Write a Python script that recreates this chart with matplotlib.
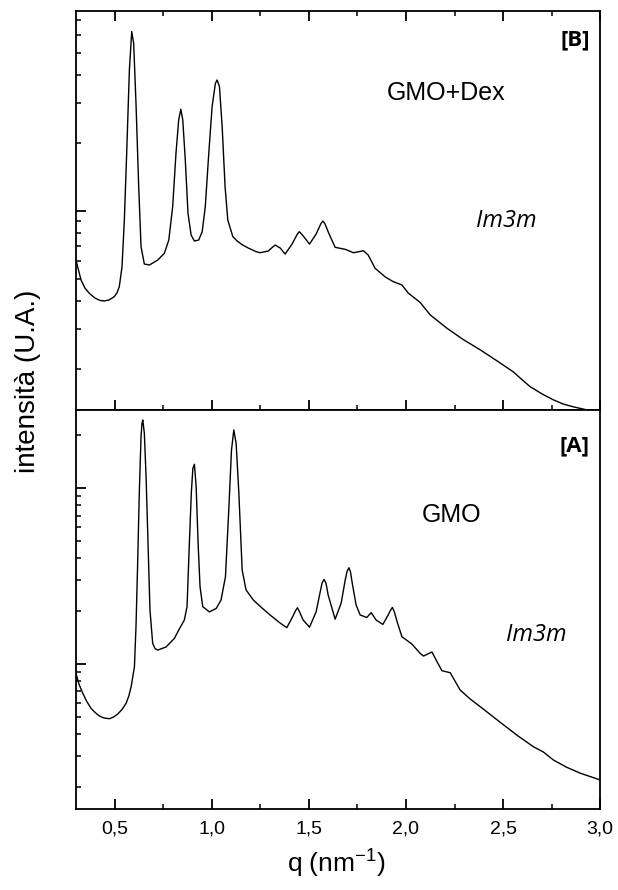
import matplotlib

matplotlib.use("Agg")
import matplotlib.pyplot as plt
from matplotlib.ticker import FixedLocator, FuncFormatter, LogLocator, MultipleLocator, NullFormatter

# GMO + dextran sample, panel [B]
q_dex = [0.300, 0.310, 0.326, 0.346, 0.369, 0.398, 0.424, 0.446, 0.470, 0.497,
         0.511, 0.523, 0.537, 0.549, 0.561, 0.575, 0.587, 0.597, 0.609, 0.623,
         0.635, 0.652, 0.678, 0.721, 0.755, 0.778, 0.798, 0.815, 0.829, 0.840,
         0.850, 0.863, 0.877, 0.893, 0.910, 0.932, 0.950, 0.966, 0.984, 1.001,
         1.018, 1.027, 1.039, 1.053, 1.068, 1.082, 1.108, 1.130, 1.159, 1.192,
         1.228, 1.248, 1.290, 1.305, 1.326, 1.352, 1.377, 1.413, 1.440, 1.450,
         1.460, 1.475, 1.503, 1.537, 1.562, 1.572, 1.582, 1.604, 1.635, 1.687,
         1.729, 1.781, 1.805, 1.841, 1.893, 1.934, 1.979, 2.011, 2.073, 2.125,
         2.211, 2.295, 2.383, 2.470, 2.554, 2.599, 2.640, 2.702, 2.760, 2.810,
         2.863, 2.913, 3.000]
i_dex = [0.607, 0.560, 0.495, 0.456, 0.432, 0.412, 0.402, 0.400, 0.404, 0.418,
         0.434, 0.463, 0.567, 0.912, 1.80, 4.21, 6.22, 5.52, 3.00, 1.28,
         0.695, 0.583, 0.577, 0.607, 0.650, 0.744, 1.045, 1.80, 2.53, 2.82,
         2.53, 1.68, 0.977, 0.783, 0.737, 0.744, 0.810, 1.045, 1.80, 2.89,
         3.67, 3.80, 3.55, 2.36, 1.28, 0.912, 0.770, 0.737, 0.707, 0.683,
         0.661, 0.654, 0.665, 0.683, 0.707, 0.686, 0.645, 0.714, 0.790, 0.810,
         0.795, 0.767, 0.714, 0.791, 0.880, 0.903, 0.880, 0.791, 0.691, 0.677,
         0.654, 0.667, 0.639, 0.558, 0.511, 0.487, 0.471, 0.434, 0.394, 0.347,
         0.303, 0.270, 0.243, 0.217, 0.194, 0.179, 0.167, 0.155, 0.146, 0.140,
         0.136, 0.133, 0.128]

# pure GMO sample, panel [A]
q_gmo = [0.300, 0.315, 0.335, 0.354, 0.377, 0.398, 0.420, 0.444, 0.472, 0.493,
         0.515, 0.537, 0.558, 0.572, 0.584, 0.601, 0.609, 0.618, 0.626, 0.635,
         0.640, 0.644, 0.652, 0.661, 0.670, 0.681, 0.695, 0.707, 0.721, 0.764,
         0.807, 0.832, 0.858, 0.872, 0.884, 0.894, 0.902, 0.910, 0.919, 0.929,
         0.939, 0.953, 0.987, 1.022, 1.047, 1.070, 1.087, 1.101, 1.113, 1.125,
         1.139, 1.156, 1.176, 1.214, 1.259, 1.300, 1.352, 1.386, 1.413, 1.432,
         1.441, 1.450, 1.470, 1.503, 1.537, 1.558, 1.568, 1.578, 1.588, 1.599,
         1.635, 1.666, 1.687, 1.697, 1.706, 1.714, 1.723, 1.743, 1.764, 1.798,
         1.821, 1.846, 1.881, 1.908, 1.920, 1.930, 1.940, 1.955, 1.979, 2.030,
         2.073, 2.090, 2.134, 2.156, 2.185, 2.228, 2.279, 2.331, 2.383, 2.444,
         2.503, 2.578, 2.657, 2.707, 2.760, 2.826, 2.898, 3.000]
i_gmo = [0.885, 0.769, 0.681, 0.616, 0.560, 0.530, 0.506, 0.493, 0.488, 0.499,
         0.519, 0.551, 0.597, 0.657, 0.743, 0.965, 1.63, 3.91, 9.37, 19.7,
         23.5, 24.5, 20.6, 11.6, 5.30, 2.03, 1.31, 1.225, 1.20, 1.25,
         1.40, 1.58, 1.78, 2.12, 4.86, 9.37, 13.0, 13.7, 10.2, 4.86,
         2.75, 2.12, 1.98, 2.07, 2.31, 3.14, 7.52, 16.5, 21.5, 18.0,
         9.37, 3.43, 2.64, 2.31, 2.08, 1.90, 1.71, 1.61, 1.83, 2.02,
         2.09, 2.00, 1.78, 1.62, 1.98, 2.57, 2.90, 3.03, 2.88, 2.47,
         1.80, 2.22, 3.01, 3.38, 3.53, 3.35, 2.89, 2.17, 1.90, 1.84,
         1.96, 1.78, 1.68, 1.90, 2.02, 2.10, 1.98, 1.73, 1.43, 1.30,
         1.15, 1.11, 1.17, 1.05, 0.916, 0.892, 0.711, 0.632, 0.571, 0.506,
         0.450, 0.389, 0.338, 0.316, 0.284, 0.259, 0.239, 0.219]

x_ticks = [0.5, 1.0, 1.5, 2.0, 2.5, 3.0]

plt.rcParams["font.family"] = ["Liberation Sans", "DejaVu Sans"]

fig = plt.figure(figsize=(6.18, 8.90), dpi=100)
left, width = 0.123, 0.848
ax_b = fig.add_axes([left, 0.5393, width, 0.4483])
ax_a = fig.add_axes([left, 0.0910, width, 0.4483], sharex=ax_b)


def style_axis(ax, ylim):
    ax.set_yscale("log")
    ax.set_ylim(*ylim)
    ax.set_xlim(0.3, 3.0)
    for sp in ax.spines.values():
        sp.set_linewidth(1.3)
    ax.yaxis.set_major_locator(LogLocator(base=10, numticks=10))
    ax.yaxis.set_minor_locator(LogLocator(base=10, subs=range(2, 10), numticks=20))
    ax.yaxis.set_major_formatter(NullFormatter())
    ax.yaxis.set_minor_formatter(NullFormatter())
    ax.xaxis.set_major_locator(FixedLocator(x_ticks))
    ax.xaxis.set_minor_locator(MultipleLocator(0.25))
    ax.tick_params(axis="y", which="major", direction="in", length=7.5, width=1.3,
                   left=True, right=False)
    ax.tick_params(axis="y", which="minor", direction="in", length=3.8, width=1.1,
                   left=True, right=False)
    ax.tick_params(axis="x", which="major", direction="in", length=7, width=1.3,
                   top=True, bottom=True)
    ax.tick_params(axis="x", which="minor", direction="in", length=3.5, width=1.1,
                   top=True, bottom=True)


style_axis(ax_b, (0.1317, 7.67))
style_axis(ax_a, (0.1495, 27.9))

ax_b.plot(q_dex, i_dex, color="black", lw=1.0)
ax_a.plot(q_gmo, i_gmo, color="black", lw=1.0)

ax_b.tick_params(axis="x", labelbottom=False)
ax_a.tick_params(axis="x", which="both", top=False, labelsize=14, pad=8)
ax_a.xaxis.set_major_formatter(FuncFormatter(lambda v, _: f"{v:.1f}".replace(".", ",")))

# panel annotations
bold_font = ["Open Sans", "DejaVu Sans"]
ax_b.text(0.952, 0.927, "[B]", transform=ax_b.transAxes, ha="center", va="center",
          fontsize=16, fontweight="bold", family=bold_font)
ax_b.text(0.706, 0.794, "GMO+Dex", transform=ax_b.transAxes, ha="center", va="center",
          fontsize=18)
ax_b.text(0.821, 0.474, "Im3m", transform=ax_b.transAxes, ha="center", va="center",
          fontsize=17, style="italic", family=bold_font)

ax_a.text(0.952, 0.91, "[A]", transform=ax_a.transAxes, ha="center", va="center",
          fontsize=16, fontweight="bold", family=bold_font)
ax_a.text(0.716, 0.737, "GMO", transform=ax_a.transAxes, ha="center", va="center",
          fontsize=18)
ax_a.text(0.878, 0.436, "Im3m", transform=ax_a.transAxes, ha="center", va="center",
          fontsize=17, style="italic", family=bold_font)

fig.text(0.046, 0.572, "intensità (U.A.)", rotation=90, ha="center", va="center",
         fontsize=20)
fig.text(0.545, 0.031, r"q (nm$^{\mathregular{-1}}$)", ha="center", va="center",
         fontsize=19)

fig.savefig("out.png", dpi=100)
